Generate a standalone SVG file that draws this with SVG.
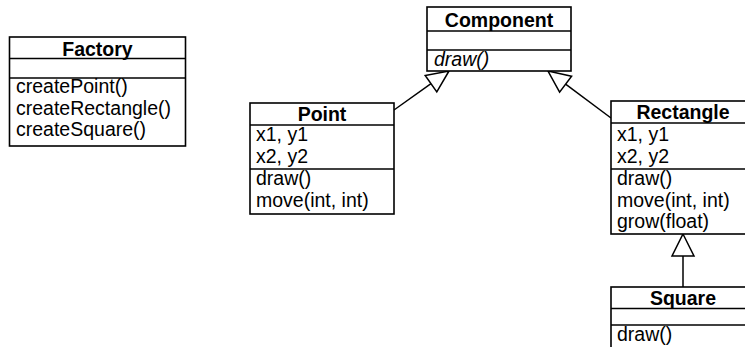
<svg xmlns="http://www.w3.org/2000/svg" width="745" height="347" viewBox="0 0 745 347">
  <style>
    .box { fill: #ffffff; stroke: #000000; stroke-width: 1.6; }
    .sep { stroke: #000000; stroke-width: 1.6; fill: none; }
    .title { font-family: "Liberation Sans", Arial, sans-serif; font-size: 19.5px; font-weight: bold; text-anchor: middle; fill: #000000; }
    .item { font-family: "Liberation Sans", Arial, sans-serif; font-size: 19.5px; fill: #000000; }
    .abstract { font-style: italic; }
    .edge { stroke: #000000; stroke-width: 1.5; fill: none; }
    .head { stroke: #000000; stroke-width: 1.5; fill: #ffffff; stroke-linejoin: miter; }
  </style>

  <!-- generalization connectors -->
  <g id="connectors">
    <line class="edge" x1="394" y1="110" x2="431" y2="83.7"/>
    <polygon class="head" points="449,71 436.8,91.9 425.2,75.5"/>
    <line class="edge" x1="611" y1="118" x2="565.6" y2="84.2"/>
    <polygon class="head" points="548,71 571.6,76.2 559.6,92.2"/>
    <line class="edge" x1="683" y1="287" x2="683" y2="256"/>
    <polygon class="head" points="683,234 694,256 672,256"/>
  </g>

  <g id="Factory">
    <rect class="box" x="9.5" y="37" width="176" height="109"/>
    <line class="sep" x1="9.5" y1="58.5" x2="185.5" y2="58.5"/>
    <line class="sep" x1="9.5" y1="78" x2="185.5" y2="78"/>
    <text class="title" x="97.5" y="56">Factory</text>
    <text class="item" x="16" y="93">createPoint()</text>
    <text class="item" x="16" y="114.5">createRectangle()</text>
    <text class="item" x="16" y="136">createSquare()</text>
  </g>

  <g id="Component">
    <rect class="box" x="427" y="7" width="144" height="64"/>
    <line class="sep" x1="427" y1="31" x2="571" y2="31"/>
    <line class="sep" x1="427" y1="50" x2="571" y2="50"/>
    <text class="title" x="499" y="27">Component</text>
    <text class="item abstract" x="434" y="66">draw()</text>
  </g>

  <g id="Point">
    <rect class="box" x="250" y="103" width="144" height="111"/>
    <line class="sep" x1="250" y1="125" x2="394" y2="125"/>
    <line class="sep" x1="250" y1="169" x2="394" y2="169"/>
    <text class="title" x="322" y="121">Point</text>
    <text class="item" x="256" y="141">x1, y1</text>
    <text class="item" x="256" y="162.5">x2, y2</text>
    <text class="item" x="256" y="185">draw()</text>
    <text class="item" x="256" y="206.5">move(int, int)</text>
  </g>

  <g id="Rectangle">
    <rect class="box" x="611" y="101" width="144" height="133"/>
    <line class="sep" x1="611" y1="123" x2="755" y2="123"/>
    <line class="sep" x1="611" y1="169" x2="755" y2="169"/>
    <text class="title" x="683" y="119">Rectangle</text>
    <text class="item" x="617" y="141">x1, y1</text>
    <text class="item" x="617" y="162.5">x2, y2</text>
    <text class="item" x="617" y="185">draw()</text>
    <text class="item" x="617" y="206.5">move(int, int)</text>
    <text class="item" x="617" y="228">grow(float)</text>
  </g>

  <g id="Square">
    <rect class="box" x="611" y="287" width="144" height="80"/>
    <line class="sep" x1="611" y1="308.5" x2="755" y2="308.5"/>
    <line class="sep" x1="611" y1="325" x2="755" y2="325"/>
    <text class="title" x="683" y="305">Square</text>
    <text class="item" x="617" y="341">draw()</text>
  </g>
</svg>
